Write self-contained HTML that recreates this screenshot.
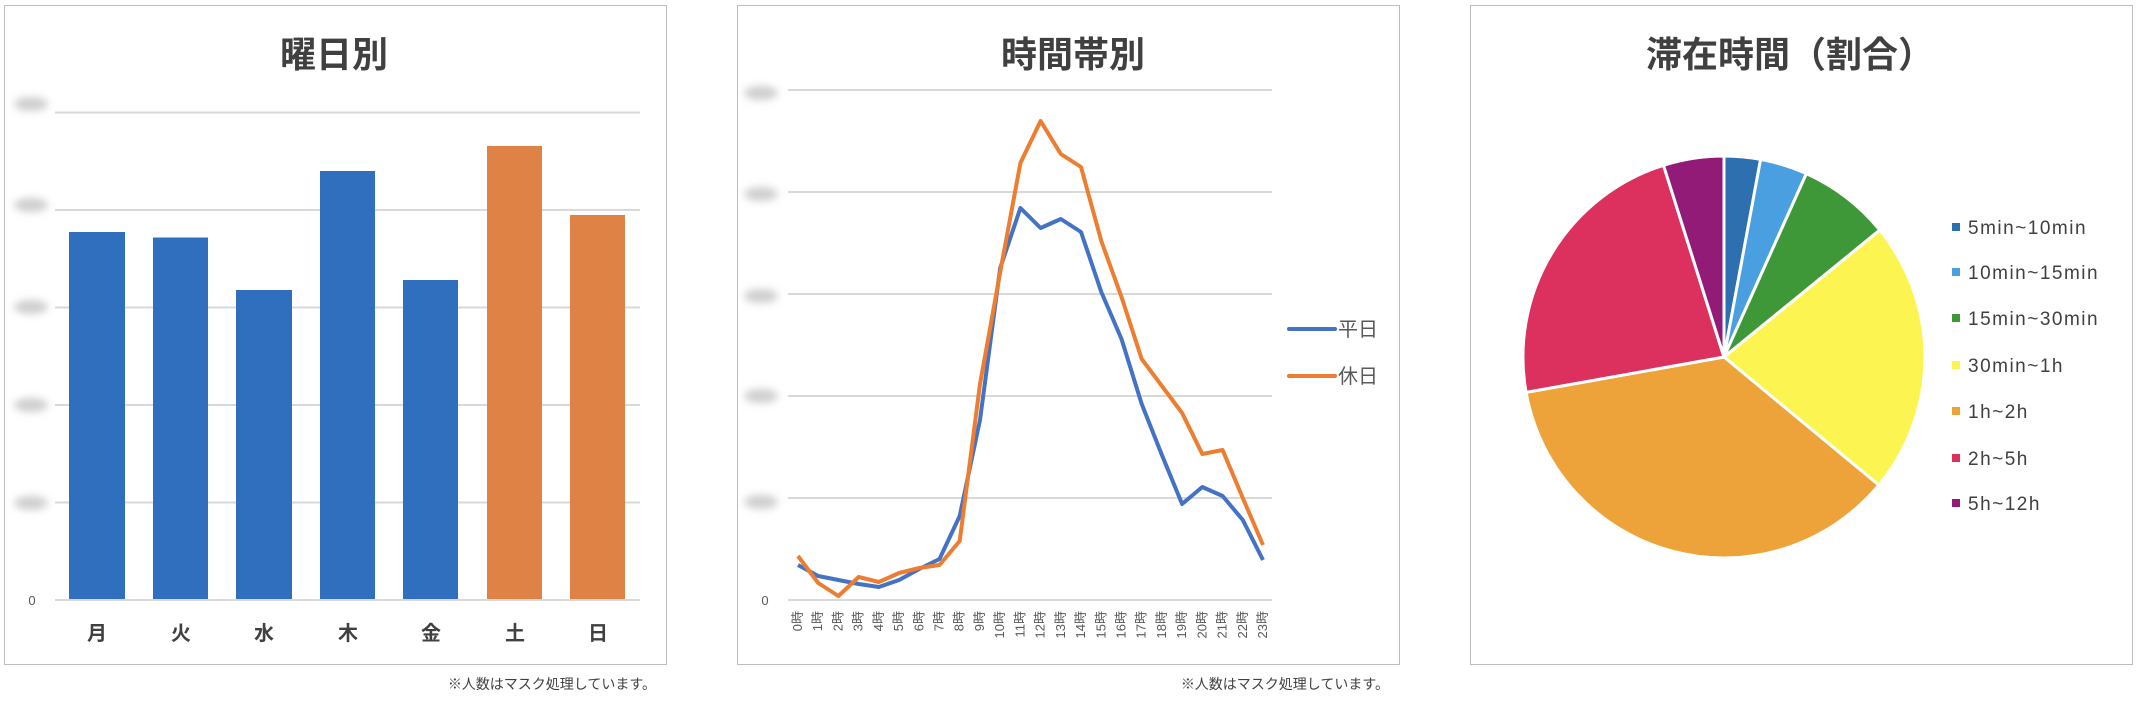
<!DOCTYPE html>
<html><head><meta charset="utf-8"><style>
html,body{margin:0;padding:0;background:#fff;}
svg{display:block;}
text{font-family:"Liberation Sans","Noto Sans CJK JP",sans-serif;}
</style></head><body>
<svg width="2140" height="702" viewBox="0 0 2140 702" xmlns="http://www.w3.org/2000/svg">
<defs><filter id="b" x="-50%" y="-50%" width="200%" height="200%"><feGaussianBlur stdDeviation="4"/></filter></defs>
<rect width="2140" height="702" fill="#fff"/>
<!-- Panel 1 -->
<rect x="4.5" y="5.5" width="662" height="659" fill="#fff" stroke="#bdbdbd" stroke-width="1"/>
<text x="334" y="67" text-anchor="middle" font-size="36" font-weight="bold" fill="#404040">曜日別</text>
<g stroke="#d9d9d9" stroke-width="2">
<line x1="55" y1="112.5" x2="640" y2="112.5"/><line x1="55" y1="210" x2="640" y2="210"/>
<line x1="55" y1="307.5" x2="640" y2="307.5"/><line x1="55" y1="405" x2="640" y2="405"/>
<line x1="55" y1="502.5" x2="640" y2="502.5"/><line x1="55" y1="600" x2="640" y2="600"/>
</g>
<g fill="#cfcfcf" filter="url(#b)">
<ellipse cx="31" cy="104" rx="17" ry="7"/><ellipse cx="31" cy="205" rx="17" ry="7"/>
<ellipse cx="31" cy="307" rx="17" ry="7"/><ellipse cx="31" cy="405" rx="17" ry="7"/>
<ellipse cx="31" cy="503" rx="17" ry="7"/>
</g>
<text x="32" y="605" text-anchor="middle" font-size="13" fill="#595959">0</text>
<g fill="#2f6fbd">
<rect x="69" y="232" width="56" height="367"/><rect x="153" y="237.5" width="55" height="361.5"/>
<rect x="236" y="290" width="56" height="309"/><rect x="320" y="171" width="55" height="428"/>
<rect x="403" y="280" width="55" height="319"/>
</g>
<g fill="#df8245"><rect x="487" y="146" width="55" height="453"/><rect x="570" y="215" width="55" height="384"/></g>
<g font-size="20" font-weight="bold" fill="#404040" text-anchor="middle">
<text x="97" y="640">月</text><text x="181" y="640">火</text><text x="264" y="640">水</text><text x="348" y="640">木</text><text x="431" y="640">金</text><text x="515" y="640">土</text><text x="598" y="640">日</text>
</g>
<text x="656" y="689" text-anchor="end" font-size="14" fill="#404040">※人数はマスク処理しています。</text>

<!-- Panel 2 -->
<rect x="737.5" y="5.5" width="662" height="659" fill="#fff" stroke="#bdbdbd" stroke-width="1"/>
<text x="1073" y="67" text-anchor="middle" font-size="36" font-weight="bold" fill="#404040">時間帯別</text>
<g stroke="#d9d9d9" stroke-width="2">
<line x1="788" y1="90" x2="1272" y2="90"/><line x1="788" y1="192" x2="1272" y2="192"/>
<line x1="788" y1="294" x2="1272" y2="294"/><line x1="788" y1="396" x2="1272" y2="396"/>
<line x1="788" y1="498" x2="1272" y2="498"/><line x1="788" y1="600" x2="1272" y2="600"/>
</g>
<g fill="#cfcfcf" filter="url(#b)">
<ellipse cx="761" cy="93" rx="17" ry="7"/><ellipse cx="761" cy="194" rx="17" ry="7"/>
<ellipse cx="761" cy="296" rx="17" ry="7"/><ellipse cx="761" cy="396" rx="17" ry="7"/>
<ellipse cx="761" cy="502" rx="17" ry="7"/>
</g>
<text x="765" y="605" text-anchor="middle" font-size="13" fill="#595959">0</text>
<polyline fill="none" stroke="#4472c4" stroke-width="4" stroke-linejoin="round" points="798,565 818.2,576 838.4,580 858.7,584 878.9,587 899.1,580 919.3,569 939.5,559 959.7,516 980,420 1000.2,268 1020.4,208 1040.6,228 1060.8,219 1081,232 1101.3,292 1121.5,339 1141.7,404 1161.9,455 1182.1,504 1202.3,487 1222.6,496 1242.8,520 1263,560"/>
<polyline fill="none" stroke="#ed7d31" stroke-width="4" stroke-linejoin="round" points="798,556 818.2,583 838.4,596 858.7,577 878.9,582 899.1,573 919.3,568 939.5,565 959.7,541 980,384 1000.2,272 1020.4,163 1040.6,121 1060.8,154 1081,167 1101.3,241 1121.5,297 1141.7,359 1161.9,386 1182.1,413 1202.3,454 1222.6,450 1242.8,498 1263,545"/>
<g font-size="13" fill="#595959">
<text transform="translate(802,611) rotate(-90)" text-anchor="end">0時</text>
<text transform="translate(822.2,611) rotate(-90)" text-anchor="end">1時</text>
<text transform="translate(842.4,611) rotate(-90)" text-anchor="end">2時</text>
<text transform="translate(862.7,611) rotate(-90)" text-anchor="end">3時</text>
<text transform="translate(882.9,611) rotate(-90)" text-anchor="end">4時</text>
<text transform="translate(903.1,611) rotate(-90)" text-anchor="end">5時</text>
<text transform="translate(923.3,611) rotate(-90)" text-anchor="end">6時</text>
<text transform="translate(943.5,611) rotate(-90)" text-anchor="end">7時</text>
<text transform="translate(963.7,611) rotate(-90)" text-anchor="end">8時</text>
<text transform="translate(984,611) rotate(-90)" text-anchor="end">9時</text>
<text transform="translate(1004.2,611) rotate(-90)" text-anchor="end">10時</text>
<text transform="translate(1024.4,611) rotate(-90)" text-anchor="end">11時</text>
<text transform="translate(1044.6,611) rotate(-90)" text-anchor="end">12時</text>
<text transform="translate(1064.8,611) rotate(-90)" text-anchor="end">13時</text>
<text transform="translate(1085,611) rotate(-90)" text-anchor="end">14時</text>
<text transform="translate(1105.3,611) rotate(-90)" text-anchor="end">15時</text>
<text transform="translate(1125.5,611) rotate(-90)" text-anchor="end">16時</text>
<text transform="translate(1145.7,611) rotate(-90)" text-anchor="end">17時</text>
<text transform="translate(1165.9,611) rotate(-90)" text-anchor="end">18時</text>
<text transform="translate(1186.1,611) rotate(-90)" text-anchor="end">19時</text>
<text transform="translate(1206.3,611) rotate(-90)" text-anchor="end">20時</text>
<text transform="translate(1226.6,611) rotate(-90)" text-anchor="end">21時</text>
<text transform="translate(1246.8,611) rotate(-90)" text-anchor="end">22時</text>
<text transform="translate(1267,611) rotate(-90)" text-anchor="end">23時</text>
</g>
<line x1="1289" y1="329" x2="1335" y2="329" stroke="#4472c4" stroke-width="4" stroke-linecap="round"/>
<text x="1338" y="336" font-size="20" fill="#595959">平日</text>
<line x1="1289" y1="376" x2="1335" y2="376" stroke="#ed7d31" stroke-width="4" stroke-linecap="round"/>
<text x="1338" y="383" font-size="20" fill="#595959">休日</text>
<text x="1389" y="689" text-anchor="end" font-size="14" fill="#404040">※人数はマスク処理しています。</text>

<!-- Panel 3 -->
<rect x="1470.5" y="5.5" width="662" height="659" fill="#fff" stroke="#bdbdbd" stroke-width="1"/>
<text x="1790" y="67" text-anchor="middle" font-size="36" font-weight="bold" fill="#404040">滞在時間（割合）</text>
<g stroke="#fff" stroke-width="3" stroke-linejoin="round">
<path d="M1724,357 L1724,156 A201,201 0 0 1 1760.6,159.4 Z" fill="#2e6fb0"/>
<path d="M1724,357 L1760.6,159.4 A201,201 0 0 1 1806.4,173.6 Z" fill="#4a9fe0"/>
<path d="M1724,357 L1806.4,173.6 A201,201 0 0 1 1879.8,230.1 Z" fill="#3f9838"/>
<path d="M1724,357 L1879.8,230.1 A201,201 0 0 1 1878.8,485.1 Z" fill="#fcf551"/>
<path d="M1724,357 L1878.8,485.1 A201,201 0 0 1 1526.1,392.4 Z" fill="#eda33a"/>
<path d="M1724,357 L1526.1,392.4 A201,201 0 0 1 1663.5,165.3 Z" fill="#dc315e"/>
<path d="M1724,357 L1663.5,165.3 A201,201 0 0 1 1724,156 Z" fill="#921b78"/>
</g>
<g font-size="19" fill="#404040" letter-spacing="1.5">
<rect x="1952" y="223" width="8" height="8" fill="#2e6fb0"/><text x="1968" y="234">5min~10min</text>
<rect x="1952" y="268" width="8" height="8" fill="#4a9fe0"/><text x="1968" y="279">10min~15min</text>
<rect x="1952" y="314" width="8" height="8" fill="#3f9838"/><text x="1968" y="325">15min~30min</text>
<rect x="1952" y="361" width="8" height="8" fill="#fcf551"/><text x="1968" y="372">30min~1h</text>
<rect x="1952" y="407" width="8" height="8" fill="#eda33a"/><text x="1968" y="418">1h~2h</text>
<rect x="1952" y="454" width="8" height="8" fill="#dc315e"/><text x="1968" y="465">2h~5h</text>
<rect x="1952" y="499" width="8" height="8" fill="#921b78"/><text x="1968" y="510">5h~12h</text>
</g>
</svg>
</body></html>
